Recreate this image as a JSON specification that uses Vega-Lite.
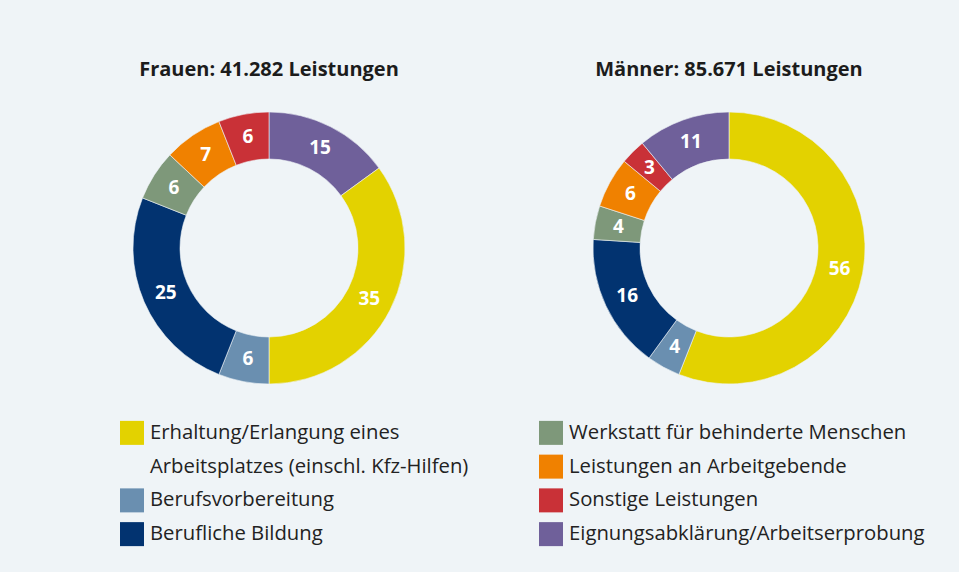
{
  "$schema": "https://vega.github.io/schema/vega-lite/v6.json",
  "background": "#eff4f7",
  "padding": {"left": 49, "top": 60, "right": 10, "bottom": 21},
  "datasets": {
    "shares": [
      {"gender": "Frauen", "category": "Eignungsabklärung/Arbeitserprobung", "value": 15, "rank": 1},
      {"gender": "Frauen", "category": "Erhaltung/Erlangung eines Arbeitsplatzes (einschl. Kfz-Hilfen)", "value": 35, "rank": 2},
      {"gender": "Frauen", "category": "Berufsvorbereitung", "value": 6, "rank": 3},
      {"gender": "Frauen", "category": "Berufliche Bildung", "value": 25, "rank": 4},
      {"gender": "Frauen", "category": "Werkstatt für behinderte Menschen", "value": 6, "rank": 5},
      {"gender": "Frauen", "category": "Leistungen an Arbeitgebende", "value": 7, "rank": 6},
      {"gender": "Frauen", "category": "Sonstige Leistungen", "value": 6, "rank": 7},
      {"gender": "Männer", "category": "Erhaltung/Erlangung eines Arbeitsplatzes (einschl. Kfz-Hilfen)", "value": 56, "rank": 1},
      {"gender": "Männer", "category": "Berufsvorbereitung", "value": 4, "rank": 2},
      {"gender": "Männer", "category": "Berufliche Bildung", "value": 16, "rank": 3},
      {"gender": "Männer", "category": "Werkstatt für behinderte Menschen", "value": 4, "rank": 4},
      {"gender": "Männer", "category": "Leistungen an Arbeitgebende", "value": 6, "rank": 5},
      {"gender": "Männer", "category": "Sonstige Leistungen", "value": 3, "rank": 6},
      {"gender": "Männer", "category": "Eignungsabklärung/Arbeitserprobung", "value": 11, "rank": 7}
    ],
    "legend": [
      {"category": "Erhaltung/Erlangung eines Arbeitsplatzes (einschl. Kfz-Hilfen)", "label": "Erhaltung/Erlangung eines\nArbeitsplatzes (einschl. Kfz-Hilfen)", "legendCol": 0, "legendRow": 0},
      {"category": "Berufsvorbereitung", "label": "Berufsvorbereitung", "legendCol": 0, "legendRow": 2},
      {"category": "Berufliche Bildung", "label": "Berufliche Bildung", "legendCol": 0, "legendRow": 3},
      {"category": "Werkstatt für behinderte Menschen", "label": "Werkstatt für behinderte Menschen", "legendCol": 1, "legendRow": 0},
      {"category": "Leistungen an Arbeitgebende", "label": "Leistungen an Arbeitgebende", "legendCol": 1, "legendRow": 1},
      {"category": "Sonstige Leistungen", "label": "Sonstige Leistungen", "legendCol": 1, "legendRow": 2},
      {"category": "Eignungsabklärung/Arbeitserprobung", "label": "Eignungsabklärung/Arbeitserprobung", "legendCol": 1, "legendRow": 3}
    ]
  },
  "spacing": 18,
  "vconcat": [
    {
      "spacing": 20,
      "hconcat": [
        {
          "width": 440,
          "height": 300,
          "title": {"text": "Frauen: 41.282 Leistungen", "fontSize": 20, "fontWeight": "bold", "font": "Open Sans", "color": "#1c1c1c", "offset": 18, "anchor": "middle"},
          "data": {"name": "shares"},
          "transform": [{"filter": "datum.gender === 'Frauen'"}],
          "encoding": {
            "theta": {"field": "value", "type": "quantitative", "stack": true},
            "order": {"field": "rank", "type": "quantitative"}
          },
          "layer": [
            {
              "mark": {"type": "arc", "radius": 136, "radius2": 89, "stroke": "#eff4f7", "strokeWidth": 0.6},
              "encoding": {
                "color": {"field": "category", "type": "nominal", "legend": null,
                  "scale": {"domain": ["Erhaltung/Erlangung eines Arbeitsplatzes (einschl. Kfz-Hilfen)", "Berufsvorbereitung", "Berufliche Bildung", "Werkstatt für behinderte Menschen", "Leistungen an Arbeitgebende", "Sonstige Leistungen", "Eignungsabklärung/Arbeitserprobung"],
                            "range": ["#e3d200", "#6a8fb0", "#023370", "#7e987a", "#f08100", "#c93137", "#6f609a"]}}
              }
            },
            {
              "mark": {"type": "text", "radius": 112.5, "fontSize": 19, "fontWeight": "bold", "font": "Open Sans", "color": "#ffffff"},
              "encoding": {
                "detail": {"field": "category", "type": "nominal"},
                "text": {"field": "value", "type": "quantitative"}
              }
            }
          ]
        },
        {
          "width": 440,
          "height": 300,
          "title": {"text": "Männer: 85.671 Leistungen", "fontSize": 20, "fontWeight": "bold", "font": "Open Sans", "color": "#1c1c1c", "offset": 18, "anchor": "middle"},
          "data": {"name": "shares"},
          "transform": [{"filter": "datum.gender === 'Männer'"}],
          "encoding": {
            "theta": {"field": "value", "type": "quantitative", "stack": true},
            "order": {"field": "rank", "type": "quantitative"}
          },
          "layer": [
            {
              "mark": {"type": "arc", "radius": 136, "radius2": 89, "stroke": "#eff4f7", "strokeWidth": 0.6},
              "encoding": {
                "color": {"field": "category", "type": "nominal", "legend": null,
                  "scale": {"domain": ["Erhaltung/Erlangung eines Arbeitsplatzes (einschl. Kfz-Hilfen)", "Berufsvorbereitung", "Berufliche Bildung", "Werkstatt für behinderte Menschen", "Leistungen an Arbeitgebende", "Sonstige Leistungen", "Eignungsabklärung/Arbeitserprobung"],
                            "range": ["#e3d200", "#6a8fb0", "#023370", "#7e987a", "#f08100", "#c93137", "#6f609a"]}}
              }
            },
            {
              "mark": {"type": "text", "radius": 112.5, "fontSize": 19, "fontWeight": "bold", "font": "Open Sans", "color": "#ffffff"},
              "encoding": {
                "detail": {"field": "category", "type": "nominal"},
                "text": {"field": "value", "type": "quantitative"}
              }
            }
          ]
        }
      ]
    },
    {
      "width": 585,
      "height": 135,
      "data": {"name": "legend"},
      "encoding": {
        "x": {"field": "legendCol", "type": "ordinal", "scale": {"type": "point", "padding": 0.198}, "axis": null},
        "y": {"field": "legendRow", "type": "ordinal", "scale": {"type": "point", "padding": 0.5}, "axis": null}
      },
      "layer": [
        {
          "mark": {"type": "point", "shape": "square", "size": 576, "filled": true, "opacity": 1, "strokeWidth": 0},
          "encoding": {
            "color": {"field": "category", "type": "nominal", "legend": null,
              "scale": {"domain": ["Erhaltung/Erlangung eines Arbeitsplatzes (einschl. Kfz-Hilfen)", "Berufsvorbereitung", "Berufliche Bildung", "Werkstatt für behinderte Menschen", "Leistungen an Arbeitgebende", "Sonstige Leistungen", "Eignungsabklärung/Arbeitserprobung"],
                        "range": ["#e3d200", "#6a8fb0", "#023370", "#7e987a", "#f08100", "#c93137", "#6f609a"]}}
          }
        },
        {
          "mark": {"type": "text", "align": "left", "baseline": "middle", "dx": 18, "fontSize": 20.3, "font": "Open Sans", "color": "#222222", "lineBreak": "\n", "lineHeight": 33.7},
          "encoding": {
            "text": {"field": "label", "type": "nominal"}
          }
        }
      ]
    }
  ],
  "config": {"view": {"stroke": null}}
}
